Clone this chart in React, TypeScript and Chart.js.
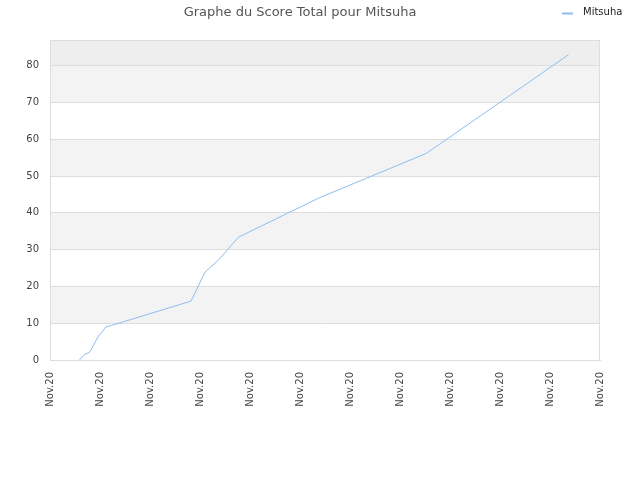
import React, { useEffect, useRef } from "react";
import { Chart, registerables } from "chart.js";

Chart.register(...registerables);

// x positions are in "tick slots" (one slot per Nov.20 label)
const dayPositions = [0.59, 0.69, 0.79, 0.97, 1.12, 1.23, 2.82, 3.1, 3.37, 3.77, 5.37, 7.53, 10.37];
const totalScores = [0, 1.5, 2.1, 6.5, 9, 9.4, 16, 23.9, 27.2, 33.4, 44, 56.2, 83];
const tickLabels = ["Nov.20", "Nov.20", "Nov.20", "Nov.20", "Nov.20", "Nov.20", "Nov.20", "Nov.20", "Nov.20", "Nov.20", "Nov.20", "Nov.20"];
const playerName = "Mitsuha";
const chartTitle = "Graphe du Score Total pour Mitsuha";

const lineColor = "#8fbdf2";
const gridColor = "#dddddd";

const App: React.FC = () => {
  const chartRef = useRef<HTMLCanvasElement | null>(null);
  const chartInstance = useRef<Chart | null>(null);

  useEffect(() => {
    document.body.style.margin = "0";
    if (chartInstance.current) chartInstance.current.destroy();
    const ctx = chartRef.current?.getContext("2d");
    if (!ctx) return;

    Chart.defaults.font.family = "'DejaVu Sans', sans-serif";

    chartInstance.current = new Chart(ctx, {
      type: "line",
      data: {
        datasets: [
          {
            label: playerName,
            data: dayPositions.map((x, i) => ({ x, y: totalScores[i] })),
            borderColor: lineColor,
            borderWidth: 1,
            pointRadius: 0,
            tension: 0,
            fill: false,
          },
        ],
      },
      options: {
        animation: false,
        responsive: false,
        maintainAspectRatio: false,
        layout: { padding: { left: 0, right: 40, top: 0, bottom: 0 } },
        plugins: {
          legend: { display: false },
          tooltip: { enabled: false },
          title: {
            display: true,
            text: chartTitle,
            color: "#555555",
            font: { size: 13, weight: "normal" },
            padding: { top: 5, bottom: 19.4 },
          },
        },
        scales: {
          x: {
            type: "linear",
            min: 0,
            max: tickLabels.length - 1,
            afterFit: (scale: any) => {
              scale.height = 120;
            },
            ticks: {
              stepSize: 1,
              autoSkip: false,
              maxRotation: 90,
              minRotation: 90,
              padding: 12,
              color: "#444444",
              font: { size: 10 },
              callback: (v: any) => tickLabels[Math.round(Number(v))] ?? "",
            },
            grid: { display: false, drawTicks: false },
            border: { color: gridColor },
          },
          y: {
            min: 0,
            max: 87,
            afterFit: (scale: any) => {
              scale.width = 50;
            },
            afterBuildTicks: (scale: any) => {
              scale.ticks = scale.ticks.filter((t: any) => t.value % 10 === 0);
            },
            ticks: {
              stepSize: 10,
              padding: 11,
              color: "#444444",
              font: { size: 10 },
            },
            grid: { color: gridColor, drawTicks: false },
            border: { color: gridColor },
          },
        },
      },
      plugins: [
        {
          id: "bandsAndLegend",
          beforeDraw: (chart: any) => {
            const { ctx: c, chartArea: a, scales } = chart;
            const y = scales.y;
            c.save();
            for (let v = 0; v < y.max; v += 10) {
              const top = y.getPixelForValue(Math.min(v + 10, y.max));
              const bottom = y.getPixelForValue(v);
              if (v >= 80) c.fillStyle = "#eeeeee";
              else c.fillStyle = (v / 10) % 2 === 1 ? "#f3f3f3" : "#ffffff";
              c.fillRect(a.left, top, a.right - a.left, bottom - top);
            }
            c.restore();
          },
          afterDraw: (chart: any) => {
            const { ctx: c, chartArea: a } = chart;
            c.save();
            c.strokeStyle = gridColor;
            c.lineWidth = 1;
            c.strokeRect(a.left + 0.5, a.top + 0.5, a.right - a.left - 1, a.bottom - a.top);
            // legend
            c.strokeStyle = lineColor;
            c.lineWidth = 2;
            c.beginPath();
            c.moveTo(562, 13.5);
            c.lineTo(573, 13.5);
            c.stroke();
            c.fillStyle = "#222222";
            c.font = "10px 'DejaVu Sans', sans-serif";
            c.textBaseline = "middle";
            c.fillText(playerName, 583, 12.5);
            c.restore();
          },
        },
      ],
    });

    return () => {
      if (chartInstance.current) chartInstance.current.destroy();
    };
  }, []);

  return (
    <div style={{ width: "640px", height: "480px" }}>
      <canvas ref={chartRef} width={640} height={480}></canvas>
    </div>
  );
};

export default App;
